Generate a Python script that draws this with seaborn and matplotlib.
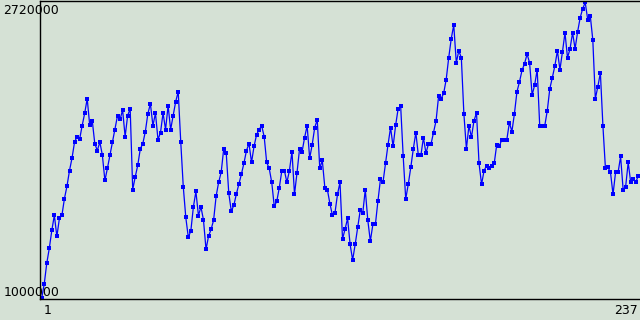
import matplotlib
matplotlib.use("Agg")
import matplotlib.pyplot as plt
import seaborn as sns
import pandas as pd

values_part1 = [
    1000000, 1081000, 1202000, 1289000, 1393000, 1482000, 1358000, 1463000, 1482000, 1579000,
    1651000, 1742000, 1815000, 1908000, 1940000, 1924000, 2003000, 2075000, 2160000, 2005000,
    2032000, 1899000, 1858000, 1908000, 1831000, 1684000, 1755000, 1831000, 1908000, 1980000,
    2062000, 2040000, 2094000, 1940000, 2062000, 2102000, 1631000, 1705000, 1773000, 1868000,
    1899000, 1969000, 2073000, 2131000, 2003000, 2077000, 1922000, 1963000, 2077000, 1980000,
    2120000, 1980000, 2062000, 2143000, 2201000, 1910000, 1648000, 1469000, 1353000, 1391000,
]
values_part2 = [
    1530000, 1620000, 1480000, 1530000, 1453000, 1283000, 1360000, 1399000, 1453000, 1593000,
    1674000, 1732000, 1868000, 1843000, 1610000, 1506000, 1539000, 1605000, 1663000, 1721000,
    1785000, 1858000, 1899000, 1789000, 1883000, 1951000, 1980000, 2003000, 1940000, 1789000,
    1754000, 1673000, 1533000, 1564000, 1643000, 1742000, 1742000, 1673000, 1742000, 1852000,
    1603000, 1730000, 1868000, 1852000, 1934000, 2003000, 1813000, 1893000, 1992000, 2038000,
    1754000, 1801000, 1643000, 1631000, 1550000, 1482000,
]
values_part3 = [
    1494000, 1603000, 1673000, 1343000, 1401000, 1463000, 1312000, 1221000, 1312000, 1413000,
    1510000, 1494000, 1631000, 1452000, 1331000, 1428000, 1428000, 1564000, 1690000, 1673000,
    1783000, 1893000, 1992000, 1882000, 2005000, 2102000, 2116000, 1824000, 1576000, 1662000,
    1760000, 1868000, 1963000, 1830000, 1830000, 1934000, 1843000, 1897000, 1896000,
]
values_part4 = [
    1963000, 2032000, 2174000, 2160000, 2191000, 2271000, 2398000, 2509000, 2590000, 2369000,
    2439000, 2398000, 2073000, 1868000, 2003000, 1936000, 2032000, 2077000, 1783000, 1662000,
    1742000, 1771000, 1754000, 1771000, 1783000, 1893000, 1882000, 1922000, 1922000, 1922000,
    2021000, 1969000, 2073000, 2201000, 2258000, 2325000, 2364000, 2420000, 2369000,
]
values_part5 = [
    2181000, 2240000, 2329000, 2003000, 2003000, 2003000, 2091000, 2219000, 2283000, 2352000,
    2439000, 2329000, 2433000, 2544000, 2398000, 2451000, 2544000, 2451000, 2550000, 2631000,
    2684000, 2720000, 2620000, 2643000, 2503000, 2160000, 2230000, 2311000, 2003000, 1754000,
    1760000, 1731000, 1603000, 1731000, 1731000, 1824000, 1631000, 1649000, 1789000, 1673000,
    1690000, 1673000, 1713000,
]

values = values_part1 + values_part2 + values_part3 + values_part4 + values_part5
index = list(range(1, len(values) + 1))

y_min_label = "1000000"
y_max_label = "2720000"
x_min_label = "1"
x_max_label = str(len(values))

df = pd.DataFrame({"i": index, "v": values})

bg = "#d5e1d5"
fig = plt.figure(figsize=(6.4, 3.2), dpi=100, facecolor=bg)
W, H = 640, 320
ax = fig.add_axes([40 / W, 21 / H, 600 / W, 298 / H])
ax.set_facecolor(bg)

sns.lineplot(data=df, x="i", y="v", ax=ax, color="#0000ff", linewidth=0.9,
             marker="s", markersize=2.6, markeredgewidth=0, markerfacecolor="#0000ff")

n = len(values)
ymin, ymax = min(values), max(values)
ppx_y = (ymax - ymin) / 296.0
ax.set_ylim(ymin - 1.0 * ppx_y, ymax + 1.5 * ppx_y)
ppx_x = (n - 1) / 596.6
ax.set_xlim(1 - 1.7 * ppx_x, n + 1.7 * ppx_x)

ax.set_xticks([])
ax.set_yticks([])
ax.set_xlabel("")
ax.set_ylabel("")
for side in ["left", "bottom", "top"]:
    ax.spines[side].set_color("black")
    ax.spines[side].set_linewidth(1.0)
ax.spines["right"].set_visible(False)

fs = 9
fig.text(3 / W, 1 - 10.5 / H, y_max_label, fontsize=fs, ha="left", va="center", color="black")
fig.text(4 / W, 1 - 292 / H, y_min_label, fontsize=fs, ha="left", va="center", color="black")
fig.text(47.5 / W, 1 - 311 / H, x_min_label, fontsize=fs, ha="center", va="center", color="black")
fig.text(638 / W, 1 - 311 / H, x_max_label, fontsize=fs, ha="right", va="center", color="black")

fig.savefig("out.png", dpi=100, facecolor=bg)
